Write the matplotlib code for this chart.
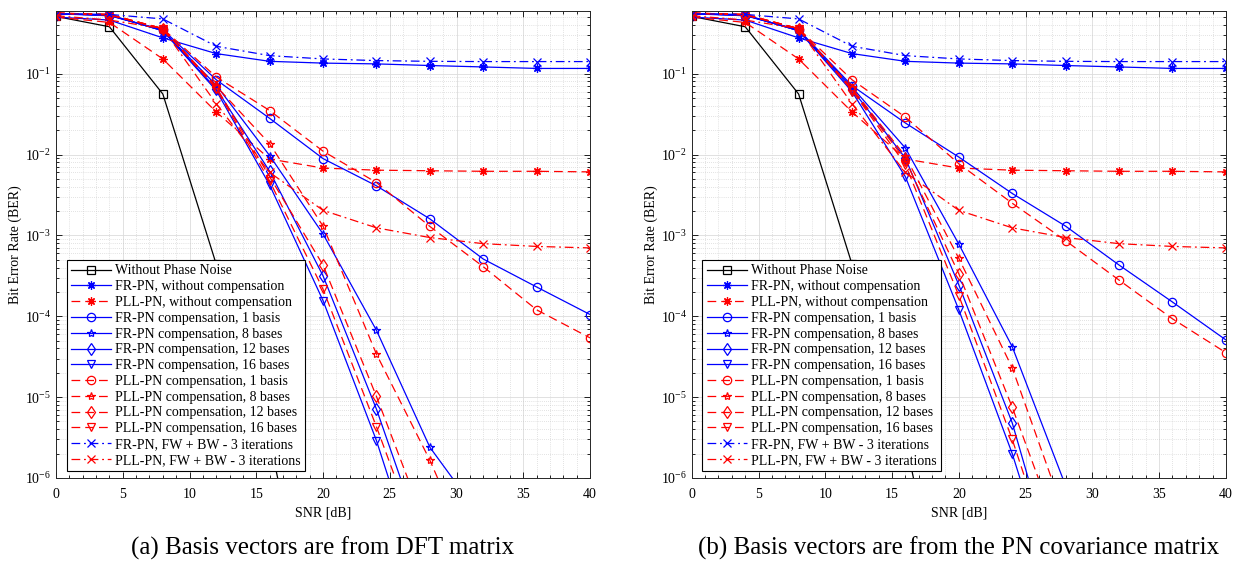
import numpy as np
import matplotlib
matplotlib.use("Agg")
import matplotlib.pyplot as plt
from matplotlib.ticker import LogLocator, MultipleLocator, NullFormatter

nan = np.nan
snr = [0, 4, 8, 12, 16, 20, 24, 28, 32, 36, 40]

# curves shared by both panels
ber_no_pn = [0.51, 0.38, 0.056, 4.4e-4, 3e-6, 2e-9, nan, nan, nan, nan, nan]
ber_fr_nocomp = [0.50, 0.46, 0.277, 0.177, 0.142, 0.135, 0.132, 0.126, 0.121, 0.116, 0.116]
ber_pll_nocomp = [0.50, 0.43, 0.152, 0.0336, 0.0088, 0.0068, 0.0064, 0.0063, 0.0062, 0.0062, 0.0061]
ber_fr_fwbw = [0.55, 0.54, 0.475, 0.218, 0.167, 0.152, 0.145, 0.142, 0.141, 0.141, 0.141]
ber_pll_fwbw = [0.52, 0.46, 0.36, 0.0425, 0.006, 0.00204, 0.00124, 0.00094, 0.00079, 0.00073, 0.0007]

# (a) DFT basis
fr_1_a = [0.55, 0.52, 0.35, 0.084, 0.028, 0.0089, 0.0041, 0.0016, 0.00051, 0.00023, 1.05e-4]
fr_8_a = [0.55, 0.53, 0.34, 0.072, 0.0097, 0.00104, 6.7e-5, 2.4e-6, 3e-7, nan, nan]
fr_12_a = [0.55, 0.53, 0.34, 0.065, 0.0062, 3.16e-4, 7.1e-6, 9e-8, nan, nan, nan]
fr_16_a = [0.55, 0.53, 0.34, 0.062, 0.0042, 1.56e-4, 2.9e-6, 2.6e-8, nan, nan, nan]
pll_1_a = [0.56, 0.53, 0.36, 0.091, 0.035, 0.011, 0.0045, 0.00129, 0.00041, 1.2e-4, 5.4e-5]
pll_8_a = [0.56, 0.54, 0.36, 0.070, 0.0136, 0.0013, 3.4e-5, 1.66e-6, 5e-8, nan, nan]
pll_12_a = [0.56, 0.54, 0.36, 0.068, 0.0053, 4.3e-4, 1.02e-5, 1.9e-7, nan, nan, nan]
pll_16_a = [0.56, 0.54, 0.36, 0.065, 0.0047, 2.16e-4, 4.3e-6, 7e-8, nan, nan, nan]

# (b) PN covariance basis
fr_1_b = [0.55, 0.52, 0.35, 0.071, 0.0245, 0.0093, 0.0033, 0.0013, 4.3e-4, 1.5e-4, 5.1e-5]
fr_8_b = [0.55, 0.53, 0.34, 0.068, 0.012, 7.8e-4, 4.2e-5, 8e-7, nan, nan, nan]
fr_12_b = [0.55, 0.53, 0.34, 0.064, 0.009, 2.44e-4, 4.8e-6, 2.5e-8, nan, nan, nan]
fr_16_b = [0.55, 0.53, 0.34, 0.060, 0.0053, 1.2e-4, 2e-6, 1.6e-8, nan, nan, nan]
pll_1_b = [0.56, 0.53, 0.36, 0.084, 0.029, 0.0077, 0.0025, 8.6e-4, 2.8e-4, 9.3e-5, 3.55e-5]
pll_8_b = [0.56, 0.54, 0.36, 0.066, 0.0095, 5.2e-4, 2.3e-5, 3.2e-7, nan, nan, nan]
pll_12_b = [0.56, 0.54, 0.36, 0.063, 0.0085, 3.35e-4, 7.5e-6, 1.2e-7, nan, nan, nan]
pll_16_b = [0.56, 0.54, 0.36, 0.062, 0.0075, 1.8e-4, 3e-6, 3e-8, nan, nan, nan]

labels = ['Without Phase Noise', 'FR-PN, without compensation', 'PLL-PN, without compensation',
          'FR-PN compensation, 1 basis', 'FR-PN compensation, 8 bases',
          'FR-PN compensation, 12 bases', 'FR-PN compensation, 16 bases',
          'PLL-PN compensation, 1 basis', 'PLL-PN compensation, 8 bases',
          'PLL-PN compensation, 12 bases', 'PLL-PN compensation, 16 bases',
          'FR-PN, FW + BW - 3 iterations', 'PLL-PN, FW + BW - 3 iterations']
captions = ['(a) Basis vectors are from DFT matrix',
            '(b) Basis vectors are from the PN covariance matrix']

plt.rcParams['font.family'] = ['Liberation Serif', 'DejaVu Serif']
plt.rcParams['mathtext.fontset'] = 'stix'

solid = '-'
dash = (0, (7, 4))
dashdot = (0, (7, 3, 1.5, 3))
ast = (8, 2, 0)
styles = [('k', solid, 's'), ('b', solid, ast), ('r', dash, ast),
          ('b', solid, 'o'), ('b', solid, '*'), ('b', solid, 'd'), ('b', solid, 'v'),
          ('r', dash, 'o'), ('r', dash, '*'), ('r', dash, 'd'), ('r', dash, 'v'),
          ('b', dashdot, 'x'), ('r', dashdot, 'x')]

panels = [
    [ber_no_pn, ber_fr_nocomp, ber_pll_nocomp, fr_1_a, fr_8_a, fr_12_a, fr_16_a,
     pll_1_a, pll_8_a, pll_12_a, pll_16_a, ber_fr_fwbw, ber_pll_fwbw],
    [ber_no_pn, ber_fr_nocomp, ber_pll_nocomp, fr_1_b, fr_8_b, fr_12_b, fr_16_b,
     pll_1_b, pll_8_b, pll_12_b, pll_16_b, ber_fr_fwbw, ber_pll_fwbw],
]

fig = plt.figure(figsize=(12.42, 5.64), dpi=100)
lefts = [0.0451, 0.557]
for i in range(2):
    ax = fig.add_axes([lefts[i], 0.1525, 0.430, 0.8285])
    for y, (c, ls, m), lab in zip(panels[i], styles, labels):
        ax.semilogy(snr, y, color=c, linestyle=ls, marker=m, markersize=6,
                    markerfacecolor='none', markeredgecolor=c, markeredgewidth=0.9,
                    linewidth=0.9, label=lab)
    ax.set_xlim(0, 40)
    ax.set_ylim(1e-6, 0.6)
    ax.xaxis.set_major_locator(MultipleLocator(5))
    ax.xaxis.set_minor_locator(MultipleLocator(1))
    ax.yaxis.set_major_locator(LogLocator(base=10, numticks=20))
    ax.yaxis.set_minor_locator(LogLocator(base=10, subs=np.arange(2, 10), numticks=20))
    ax.yaxis.set_minor_formatter(NullFormatter())
    ax.tick_params(which='both', direction='in', top=True, right=True, labelsize=10, width=0.6)
    ax.tick_params(which='major', length=4)
    ax.tick_params(which='minor', length=2)
    ax.tick_params(axis='x', pad=7)
    ax.grid(which='major', color='#dcdcdc', linestyle='-', linewidth=0.6)
    ax.grid(which='minor', color='#c8c8c8', linestyle=(0, (1, 2)), linewidth=0.5)
    ax.set_axisbelow(True)
    for s in ax.spines.values():
        s.set_linewidth(0.7)
        s.set_color('#262626')
    ax.set_xlabel('SNR [dB]', fontsize=10, labelpad=4)
    ax.set_ylabel('Bit Error Rate (BER)', fontsize=10, labelpad=2)
    leg = ax.legend(loc='lower left', bbox_to_anchor=(0.02, 0.015), fontsize=10,
                    handlelength=2.9, handletextpad=0.3, labelspacing=0.2,
                    borderpad=0.3, borderaxespad=0, fancybox=False, framealpha=1)
    leg.get_frame().set_edgecolor('black')
    leg.get_frame().set_linewidth(0.8)
    fig.text(lefts[i] + 0.215, 0.016, captions[i], ha='center', va='baseline', fontsize=18)

fig.savefig('out.png', dpi=100)
